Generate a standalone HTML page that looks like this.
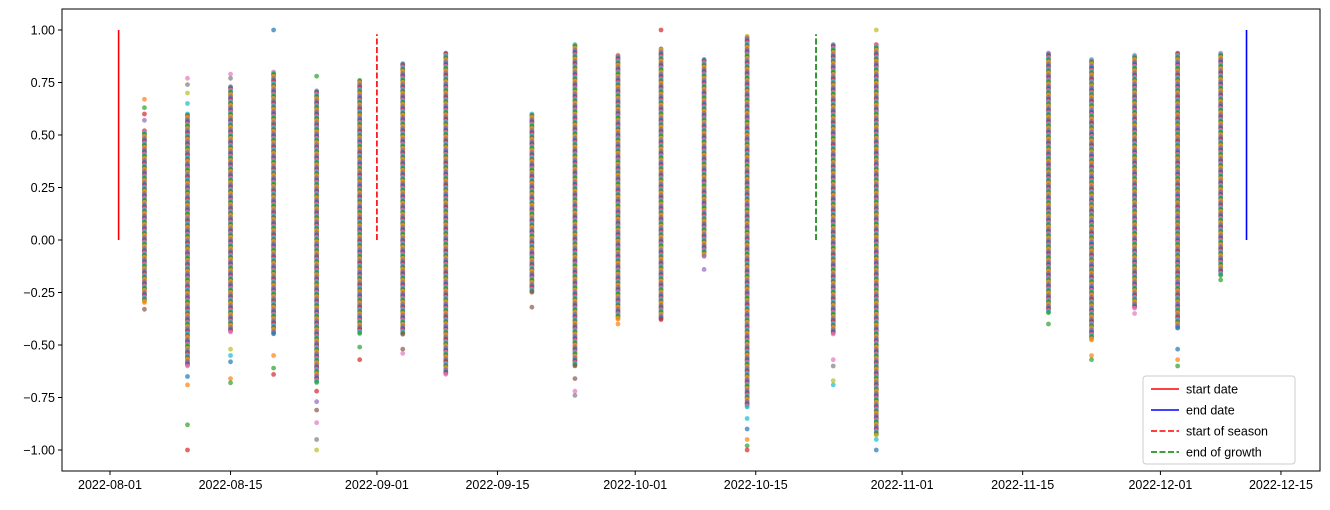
<!DOCTYPE html>
<html><head><meta charset="utf-8"><style>
body{margin:0;background:#fff;font-family:"Liberation Sans",sans-serif}
</style></head><body>
<svg id="c" width="1330" height="505" xmlns="http://www.w3.org/2000/svg"></svg>
<script>
const dates=["2022-08-05","2022-08-10","2022-08-15","2022-08-20","2022-08-25","2022-08-30","2022-09-04","2022-09-09","2022-09-19","2022-09-24","2022-09-29","2022-10-04","2022-10-09","2022-10-14","2022-10-24","2022-10-29","2022-11-18","2022-11-23","2022-11-28","2022-12-03","2022-12-08"];
const highs=[0.52,0.60,0.73,0.80,0.71,0.76,0.84,0.89,0.60,0.93,0.88,0.91,0.86,0.97,0.93,0.93,0.89,0.86,0.88,0.89,0.89];
const lows=[-0.30,-0.60,-0.44,-0.45,-0.68,-0.45,-0.45,-0.64,-0.25,-0.60,-0.38,-0.38,-0.08,-0.80,-0.45,-0.93,-0.35,-0.48,-0.33,-0.42,-0.17];
const outliers=[[0.67,0.63,0.6,0.57,-0.33],[0.77,0.74,0.70,0.65,-0.65,-0.69,-0.88,-1.0],[0.79,0.77,-0.52,-0.55,-0.58,-0.66,-0.68],[1.0,-0.55,-0.61,-0.64],[0.78,-0.72,-0.77,-0.81,-0.87,-0.95,-1.0],[-0.51,-0.57],[-0.52,-0.54],[],[-0.32],[-0.66,-0.72,-0.74],[-0.40],[1.0],[-0.14],[-0.85,-0.9,-0.95,-0.98,-1.0],[-0.57,-0.6,-0.67,-0.69],[1.0,-0.95,-1.0],[-0.40],[-0.55,-0.57],[-0.35],[-0.52,-0.57,-0.6],[-0.19]];
const yTicks=[-1.0,-0.75,-0.5,-0.25,0,0.25,0.5,0.75,1.0];
const xTicks=["2022-08-01","2022-08-15","2022-09-01","2022-09-15","2022-10-01","2022-10-15","2022-11-01","2022-11-15","2022-12-01","2022-12-15"];
const vlines=[{d:"2022-08-02",c:"#ff0000",dash:false,top:1.0,name:"start-date-line"},{d:"2022-09-01",c:"#ff0000",dash:true,top:0.98,name:"start-of-season-line"},{d:"2022-10-22",c:"#008000",dash:true,top:0.98,name:"end-of-growth-line"},{d:"2022-12-11",c:"#0000ff",dash:false,top:1.0,name:"end-date-line"}];
const colors=["#1f77b4","#ff7f0e","#2ca02c","#d62728","#9467bd","#8c564b","#e377c2","#7f7f7f","#bcbd22","#17becf"];
const L=62,R=1320,T=9,B=471;
const d0=Date.UTC(2022,7,1);
function x(ds){const p=ds.split("-");const t=Date.UTC(+p[0],+p[1]-1,+p[2]);return 110+(t-d0)/86400000*8.61;}
function y(v){return 240-v*210;}
const svg=document.getElementById("c");const NS="http://www.w3.org/2000/svg";
function el(tag,attrs,parent){const e=document.createElementNS(NS,tag);for(const k in attrs)e.setAttribute(k,attrs[k]);(parent||svg).appendChild(e);return e;}
const pts=el("g",{});


let ci=0;
dates.forEach((d,i)=>{
  const g=el("g",{},pts);
  
  
  const cx=x(d);
  for(let py=y(highs[i]);py<=y(lows[i]);py+=1.1){el("circle",{cx:cx,cy:py,r:2.4,fill:colors[(ci+=3)%10],"fill-opacity":0.75},g);}
  outliers[i].forEach(v=>{el("circle",{cx:cx,cy:y(v),r:2.4,fill:colors[ci++%10],"fill-opacity":0.7},g);});
});
vlines.forEach(v=>{const ln=el("line",{x1:x(v.d),x2:x(v.d),y1:y(0),y2:y(v.top),stroke:v.c,"stroke-width":1.6,"stroke-dasharray":v.dash?"6,2.5":"none"});

});
const ax=el("rect",{x:L,y:T,width:R-L,height:B-T,fill:"none",stroke:"#000","stroke-width":1});


yTicks.forEach(v=>{el("line",{x1:L-4,x2:L,y1:y(v),y2:y(v),stroke:"#000"});const t=el("text",{x:L-7,y:y(v)+4.5,"text-anchor":"end","font-size":"12.5px",fill:"#000"});t.textContent=v.toFixed(2).replace("-","−");

});
xTicks.forEach(d=>{const xx=x(d);el("line",{x1:xx,x2:xx,y1:B,y2:B+4,stroke:"#000"});const t=el("text",{x:xx,y:B+18,"text-anchor":"middle","font-size":"12.5px",fill:"#000"});t.textContent=d;

});
const lg=el("g",{});


el("rect",{x:1143,y:376,width:152,height:88,rx:3,fill:"#fff","fill-opacity":0.8,stroke:"#ccc"},lg);
[["start date","#ff0000",false],["end date","#0000ff",false],["start of season","#ff0000",true],["end of growth","#008000",true]].forEach((e,i)=>{
  const yy=389+i*21;
  el("line",{x1:1151,x2:1179,y1:yy,y2:yy,stroke:e[1],"stroke-width":1.6,"stroke-dasharray":e[2]?"6,2.5":"none"},lg);
  const t=el("text",{x:1186,y:yy+4.5,"font-size":"12.5px",fill:"#000"},lg);t.textContent=e[0];
  
  
});
</script>
</body></html>
